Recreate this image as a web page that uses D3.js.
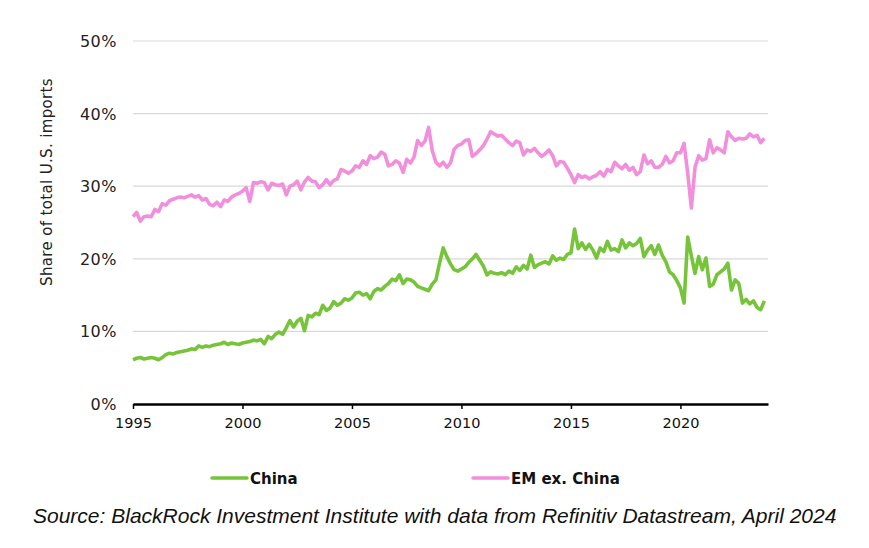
<!DOCTYPE html>
<html>
<head>
<meta charset="utf-8">
<script src="https://cdn.jsdelivr.net/npm/d3@7"></script>
<style>
  body { margin: 0; background: #fff; }
  svg { display: block; }
</style>
</head>
<body>
<div id="chart"></div>
<script>
// bimonthly readings, Jan / Mar / May / Jul / Sep / Nov of each year
var startYear = 1995;
var stepsPerYear = 6;

var chinaShare = [
  6.1, 6.3, 6.4, 6.2, 6.3, 6.4,
  6.3, 6.1, 6.4, 6.8, 7.0, 6.9,
  7.1, 7.2, 7.3, 7.4, 7.6, 7.5,
  8.0, 7.8, 8.0, 7.9, 8.1, 8.2,
  8.3, 8.5, 8.2, 8.4, 8.3, 8.2,
  8.4, 8.5, 8.6, 8.8, 8.7, 8.9,
  8.3, 9.3, 9.0, 9.6, 9.9, 9.6,
  10.5, 11.5, 10.6, 11.4, 11.8, 10.1,
  12.2, 12.0, 12.5, 12.3, 13.6, 12.9,
  13.2, 14.1, 13.6, 13.9, 14.5, 14.3,
  14.6, 15.3, 15.4, 15.0, 15.2, 14.5,
  15.5, 15.9, 15.7, 16.2, 16.6, 17.2,
  17.0, 17.8, 16.6, 17.2, 17.1, 16.8,
  16.2, 16.0, 15.8, 15.6, 16.5, 17.1,
  19.4, 21.5, 20.3, 19.3, 18.5, 18.3,
  18.6, 18.9, 19.5, 20.0, 20.6, 19.8,
  19.0, 17.8, 18.2, 18.0, 17.9, 18.1,
  17.8, 18.3, 18.0, 18.9, 18.4, 19.1,
  18.6, 20.5, 18.8, 19.2, 19.4, 19.6,
  19.3, 20.4, 19.8, 20.1, 19.9, 20.6,
  20.8, 24.1, 21.4, 22.2, 21.3, 22.0,
  21.2, 20.1, 21.5, 21.0, 22.4, 21.2,
  21.4, 21.0, 22.6, 21.5, 22.2, 21.8,
  22.1, 22.8, 20.3, 21.2, 21.8, 20.6,
  21.9, 20.5, 19.6, 18.2, 17.8, 17.0,
  16.0, 13.9, 23.0, 20.4, 18.0, 20.3,
  18.5, 20.1, 16.2, 16.5, 17.8, 18.2,
  18.6, 19.4, 15.7, 17.1, 16.6, 13.9,
  14.4, 13.8, 14.2, 13.3, 13.0, 14.2
];

var emExChinaShare = [
  25.8, 26.4, 25.2, 25.8, 25.9, 25.8,
  26.8, 26.5, 27.6, 27.4, 28.0, 28.2,
  28.4, 28.5, 28.4, 28.6, 28.8, 28.5,
  28.7, 28.1, 28.3, 27.5, 27.3, 27.8,
  27.2, 28.1, 27.9, 28.5, 28.8, 29.0,
  29.3, 29.8, 27.9, 30.5, 30.4, 30.6,
  30.5, 29.5, 30.4, 30.2, 30.1, 30.3,
  28.8, 30.0, 30.2, 30.7, 29.5, 30.6,
  31.2, 30.7, 30.6, 29.8, 30.2, 30.9,
  30.2, 30.8, 31.0, 32.3, 32.1, 31.8,
  32.1, 32.8, 32.6, 33.5, 33.0, 34.2,
  33.8, 34.0, 34.7, 34.4, 32.8, 33.0,
  33.5, 33.2, 31.9, 33.7, 33.2, 34.0,
  36.3, 35.6, 36.2, 38.1, 34.9, 33.3,
  32.8, 33.3, 32.6, 33.2, 35.1, 35.6,
  35.8, 36.3, 36.4, 34.1, 34.5, 35.0,
  35.6, 36.5, 37.5, 37.2, 36.9, 37.0,
  36.5, 36.0, 35.6, 36.2, 36.0, 34.3,
  35.0, 34.8, 35.2, 34.6, 34.1, 34.5,
  35.0, 34.2, 32.8, 33.4, 33.3, 32.5,
  31.6, 30.5, 31.6, 31.2, 31.4, 31.0,
  31.3, 31.5, 32.0, 31.4, 32.3, 32.0,
  33.3, 32.8, 32.4, 33.0, 32.2, 32.6,
  31.6, 32.0, 34.3, 33.1, 33.5, 32.6,
  32.6, 33.0, 34.1, 33.2, 33.5, 34.6,
  34.6, 35.9, 31.8, 27.0, 32.6, 34.2,
  33.6, 33.8, 36.4, 34.6, 35.3, 35.0,
  34.6, 37.5, 36.8, 36.3, 36.6, 36.5,
  36.6, 37.2, 36.8, 37.0, 36.0, 36.6
];

var xTicks = [1995, 2000, 2005, 2010, 2015, 2020];
var yTicks = [0, 10, 20, 30, 40, 50];
var seriesNames = ["China", "EM ex. China"];
var seriesColors = ["#76c43a", "#f28fdc"];

var width = 869, height = 548;
var margin = { left: 133, right: 101, top: 41, bottom: 144 };
var labelFont = "'DejaVu Sans', Verdana, sans-serif";

var svg = d3.select("#chart").append("svg")
  .attr("width", width)
  .attr("height", height);

var x = d3.scaleLinear().domain([1995, 2024]).range([margin.left, width - margin.right]);
var y = d3.scaleLinear().domain([0, 50]).range([height - margin.bottom, margin.top]);

// gridlines
svg.append("g")
  .selectAll("line")
  .data(yTicks.filter(function(d) { return d > 0; }))
  .enter().append("line")
    .attr("x1", x(1995)).attr("x2", x(2024))
    .attr("y1", function(d) { return y(d); })
    .attr("y2", function(d) { return y(d); })
    .attr("stroke", "#d9d9d9")
    .attr("stroke-width", 1.2);

// y tick labels
svg.append("g")
  .selectAll("text")
  .data(yTicks)
  .enter().append("text")
    .attr("x", 117)
    .attr("y", function(d) { return y(d) + 6; })
    .attr("text-anchor", "end")
    .attr("font-family", labelFont)
    .attr("font-size", 16)
    .attr("letter-spacing", 0.5)
    .attr("fill", "#222")
    .text(function(d) { return d + "%"; });

svg.append("text")
  .attr("transform", "translate(52," + 182 + ") rotate(-90)")
  .attr("text-anchor", "middle")
  .attr("font-family", labelFont)
  .attr("font-size", 15)
  .attr("letter-spacing", 0.35)
  .attr("fill", "#222")
  .text("Share of total U.S. imports");

var toPoints = function(values) {
  return values.map(function(v, i) {
    return { t: startYear + i / stepsPerYear, v: v };
  });
};

var line = d3.line()
  .x(function(d) { return x(d.t); })
  .y(function(d) { return y(d.v); });

[chinaShare, emExChinaShare].forEach(function(values, i) {
  svg.append("path")
    .datum(toPoints(values))
    .attr("fill", "none")
    .attr("stroke", seriesColors[i])
    .attr("stroke-width", 3.6)
    .attr("stroke-linejoin", "round")
    .attr("d", line);
});

// x axis
var xAxis = d3.axisBottom(x)
  .tickValues(xTicks)
  .tickFormat(d3.format("d"))
  .tickSize(5)
  .tickSizeOuter(0);

var gx = svg.append("g")
  .attr("transform", "translate(0," + y(0) + ")")
  .call(xAxis);
gx.select(".domain").attr("stroke", "#000").attr("stroke-width", 2.5);
gx.selectAll(".tick line").attr("stroke", "#000").attr("stroke-width", 1.5);
gx.selectAll(".tick text")
  .attr("font-family", labelFont)
  .attr("font-size", 14.5)
  .attr("fill", "#111")
  .attr("dy", "1.1em");

// legend
var legendX = [212, 473];
var legend = svg.append("g").selectAll("g")
  .data(seriesNames)
  .enter().append("g")
    .attr("transform", function(d, i) { return "translate(" + legendX[i] + ",478)"; });
legend.append("line")
  .attr("x1", 0).attr("x2", 35)
  .attr("stroke", function(d, i) { return seriesColors[i]; })
  .attr("stroke-width", 3.5)
  .attr("stroke-linecap", "round");
legend.append("text")
  .attr("x", 38).attr("y", 5.5)
  .attr("font-family", labelFont)
  .attr("font-weight", "bold")
  .attr("font-size", 15)
  .attr("fill", "#111")
  .text(function(d) { return d; });

svg.append("text")
  .attr("x", 33).attr("y", 523)
  .attr("font-family", "'Liberation Sans', Arial, sans-serif")
  .attr("font-style", "italic")
  .attr("font-size", 21)
  .attr("fill", "#111")
  .text("Source: BlackRock Investment Institute with data from Refinitiv Datastream, April 2024");
</script>
</body>
</html>
